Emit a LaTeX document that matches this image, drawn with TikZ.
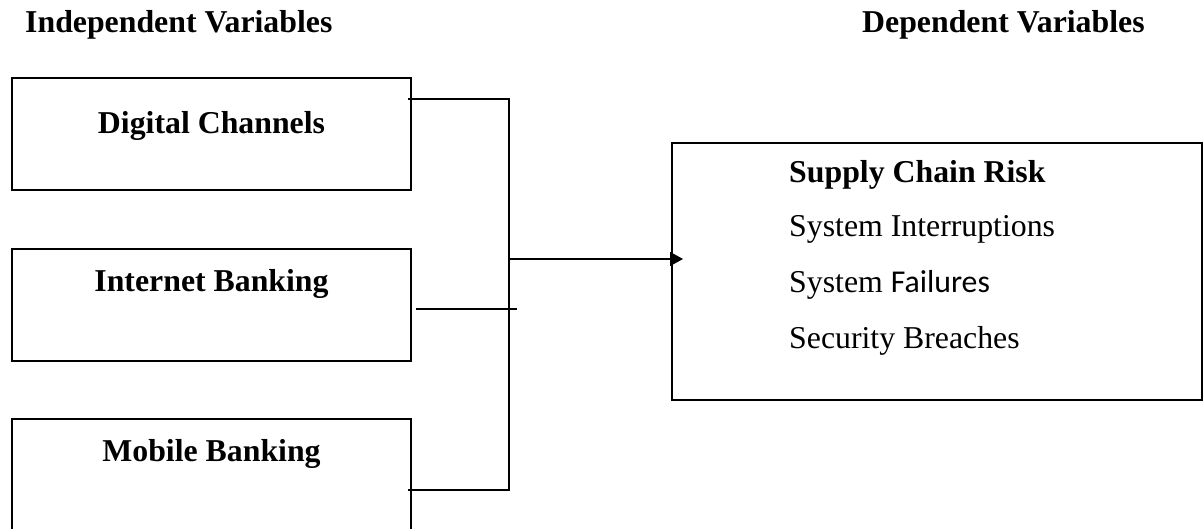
\documentclass[tikz,border=0pt]{standalone}
\usepackage{fontspec}
\setmainfont{Liberation Serif}
\newfontfamily\carlito{Carlito}
\usetikzlibrary{arrows.meta,calc}
\begin{document}
\begin{tikzpicture}[x=1pt,y=-1pt,
  box/.style={draw, line width=2.8pt, rectangle, anchor=north west, inner sep=0pt, outer sep=0pt},
  lbl/.style={anchor=base, inner sep=0pt, font=\fontsize{31.8}{38}\selectfont\bfseries},
  txt/.style={anchor=base west, inner sep=0pt, font=\fontsize{31.8}{38}\selectfont},
  conn/.style={line width=1.3pt}]
\useasboundingbox (0,0) rectangle (1204,529);
\clip (0,0) rectangle (1204,529);
% boxes
\node[box, minimum width=399pt, minimum height=112pt] (dc) at (12,78) {};
\node[box, minimum width=399pt, minimum height=112pt] (ib) at (12,249) {};
\node[box, minimum width=399pt, minimum height=130pt] (mb) at (12,419) {};
\node[box, minimum width=530pt, minimum height=257pt] (rb) at (672,143) {};
% headers
\node[lbl, anchor=base west] (h1) at (25,33) {Independent Variables};
\node[lbl, anchor=base west] (h2) at (862,33) {Dependent Variables};
% left labels
\node[lbl] (t1) at (211.5,134) {Digital Channels};
\node[lbl] (t2) at (211.5,291) {Internet Banking};
\node[lbl] (t3) at (211.5,461) {Mobile Banking};
% right texts
\node[lbl, anchor=base west] (r0) at (789,183) {Supply Chain Risk};
\node[txt] (r1) at (789,237) {System Interruptions};
\node[txt] (r2) at (789,292) {System {\carlito Failures}};
\node[txt] (r3) at (789,348) {Security Breaches};
% connectors
\coordinate (jt) at (509,99);
\coordinate (jb) at (509,490);
\coordinate (jm) at (509,259);
\coordinate (ie) at (517,309);
\draw[conn] ($(dc.east |- jt)+(-3,0)$) -- (jt) -- (jb) -- ($(mb.east |- jb)+(-3,0)$);
\draw[conn] ($(ib.east |- ie)+(5,0)$) -- (ie);
\draw[conn, -{Triangle[length=13pt,width=14pt]}] (jm) -- ($(rb.west |- jm)+(11,0)$);
\end{tikzpicture}
\end{document}
